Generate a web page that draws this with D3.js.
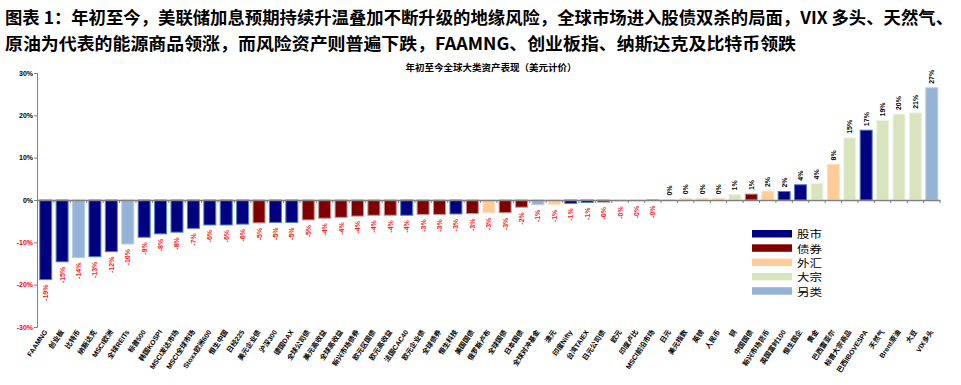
<!DOCTYPE html>
<html><head><meta charset="utf-8">
<script src="https://cdn.jsdelivr.net/npm/d3@7"></script>
<style>body{margin:0;background:#fff}</style>
</head><body>
<svg id="c" width="961" height="385"></svg>
<script>
const categories = ["FAAMNG","创业板","比特币","纳斯达克","MSCI欧洲","全球REITs","标普500","韩国KOSPI","MSCI发达市场","MSCI全球市场","Stoxx欧洲600","恒生中国","日经225","美元企业债","沪深300","德国DAX","全球公司债","美元高收益","全球高收益","新兴市场债券","欧元区国债","欧元高收益","法国CAC40","欧元企业债","全球债券","恒生科技","美国国债","俄罗斯卢布","全球国债","日本国债","全球对冲基金","澳元","印度Nifty","台湾TAIEX","日元公司债","欧元","印度卢比","MSCI前沿市场","日元","美元指数","英镑","人民币","铜","中国国债","新兴市场货币","英国富时100","恒生国企","黄金","巴西雷亚尔","标普大宗商品","巴西IBOVESPA","天然气","Brent原油","大豆","VIX多头"];
const values = [-18.8,-14.6,-13.6,-13.4,-12.2,-10.4,-8.8,-8.0,-7.6,-6.7,-5.9,-5.9,-5.7,-5.4,-5.3,-5.3,-4.7,-4.3,-4.1,-3.8,-3.6,-3.6,-3.6,-3.4,-3.4,-3.3,-3.2,-3.0,-3.0,-1.7,-1.1,-1.1,-0.8,-0.6,-0.5,-0.3,-0.2,-0.1,0.1,0.4,0.4,0.4,1.3,1.4,2.1,2.0,3.6,3.9,8.4,14.7,16.5,18.8,20.3,20.6,26.5];
const assetClass = ["股市","股市","另类","股市","股市","另类","股市","股市","股市","股市","股市","股市","股市","债券","股市","股市","债券","债券","债券","债券","债券","债券","股市","债券","债券","股市","债券","外汇","债券","债券","另类","外汇","股市","股市","债券","外汇","外汇","股市","外汇","外汇","外汇","外汇","大宗","债券","外汇","股市","股市","大宗","外汇","大宗","股市","大宗","大宗","大宗","另类"];
const legendItems = ["股市","债券","外汇","大宗","另类"];
const yTicks = [30,20,10,0,-10,-20,-30];
const titleLines = ["图表 1：年初至今，美联储加息预期持续升温叠加不断升级的地缘风险，全球市场进入股债双杀的局面，VIX 多头、天然气、","原油为代表的能源商品领涨，而风险资产则普遍下跌，FAAMNG、创业板指、纳斯达克及比特币领跌"];
const chartTitle = "年初至今全球大类资产表现（美元计价）";

const fill = d3.scaleOrdinal().domain(legendItems).range(["#000080","#800000","#FFCC99","#D7E4BD","#95B3D7"]);
const stroke = d3.scaleOrdinal().domain(legendItems).range(["#4F7FC8","#C99090","#FFE0C0","#EEF4E4","#B8CCE6"]);

const svg = d3.select("#c");
const FONT = "'Liberation Sans','Noto Sans CJK SC',sans-serif";
svg.selectAll("text.title").data(titleLines).join("text")
  .attr("x",5).attr("y",(d,i)=>24+i*26)
  .attr("font-family","'Noto Sans CJK SC',sans-serif").attr("font-weight","bold").attr("font-size",17)
  .attr("textLength",(d,i)=>i===0?948:791).attr("lengthAdjust","spacingAndGlyphs")
  .attr("fill","#000").text(d=>d);

svg.append("text").attr("x",491).attr("y",71).attr("text-anchor","middle")
  .attr("font-family","'Noto Sans CJK SC',sans-serif").attr("font-weight","bold").attr("font-size",9.5)
  .text(chartTitle);

const x = d3.scaleBand().domain(categories).range([37.5,940]).paddingInner(0.27).paddingOuter(0.135);
const y = d3.scaleLinear().domain([-30,30]).range([327,73]);

// y axis
const yAxis = svg.append("g").attr("transform","translate(37,0)")
  .call(d3.axisLeft(y).tickValues(yTicks).tickSize(3).tickFormat(d=>d+"%"));
yAxis.select(".domain").attr("stroke","#808080");
yAxis.selectAll(".tick line").attr("stroke","#808080");
yAxis.selectAll(".tick text").attr("font-family",FONT).attr("font-size",7).attr("font-weight","bold")
  .attr("fill",d=>d<0?"#FF0000":"#000").attr("x",-4);

// bars
svg.append("g").selectAll("rect").data(categories).join("rect")
  .attr("x",d=>x(d)).attr("width",x.bandwidth())
  .attr("y",(d,i)=>y(Math.max(0,values[i])))
  .attr("height",(d,i)=>Math.abs(y(values[i])-y(0)))
  .attr("fill",(d,i)=>fill(assetClass[i]))
  .attr("stroke",(d,i)=>stroke(assetClass[i])).attr("stroke-width",1);

// x axis at zero
const xAxis = svg.append("g").attr("transform",`translate(0,${y(0)})`)
  .call(d3.axisBottom(x).tickSize(0).tickFormat(""));
xAxis.select(".domain").attr("stroke","#808080").attr("stroke-width",1.5);
const step = x.step();
svg.append("g").selectAll("line").data(d3.range(categories.length+1)).join("line")
  .attr("x1",i=>x(categories[0])-x.paddingInner()*step/2 + i*step)
  .attr("x2",i=>x(categories[0])-x.paddingInner()*step/2 + i*step)
  .attr("y1",y(0)).attr("y2",y(0)+3).attr("stroke","#808080");

// value labels
svg.append("g").selectAll("text").data(categories).join("text")
  .attr("transform",(d,i)=>{
    const cx = x(d)+x.bandwidth()/2+2.5;
    const cy = values[i]<0 ? y(values[i])+5 : y(values[i])-4;
    return `translate(${cx},${cy}) rotate(-90)`;
  })
  .attr("text-anchor",(d,i)=>values[i]<0?"end":"start")
  .attr("font-family",FONT).attr("font-size",7).attr("font-weight","bold")
  .attr("fill",(d,i)=>values[i]<0?"#FF2020":"#000")
  .text((d,i)=>{const r=Math.round(values[i]); return (values[i]<0?"-":"")+Math.abs(r)+"%";});

// category labels
svg.append("g").selectAll("text").data(categories).join("text")
  .attr("transform",d=>`translate(${x(d)+x.bandwidth()/2+2},332) rotate(-56)`)
  .attr("text-anchor","end")
  .attr("font-family",FONT).attr("font-size",7).attr("font-weight","bold").attr("fill","#000")
  .text(d=>d);

// legend
const lg = svg.append("g").selectAll("g").data(legendItems).join("g")
  .attr("transform",(d,i)=>`translate(752,${230+i*14.3})`);
lg.append("rect").attr("width",40).attr("height",7.5).attr("fill",d=>fill(d));
lg.append("text").attr("x",45).attr("y",8.3).attr("font-family","'Noto Sans CJK SC',sans-serif").attr("font-size",9.8)
  .attr("textLength",25).attr("lengthAdjust","spacingAndGlyphs").text(d=>d);
</script>
</body></html>
